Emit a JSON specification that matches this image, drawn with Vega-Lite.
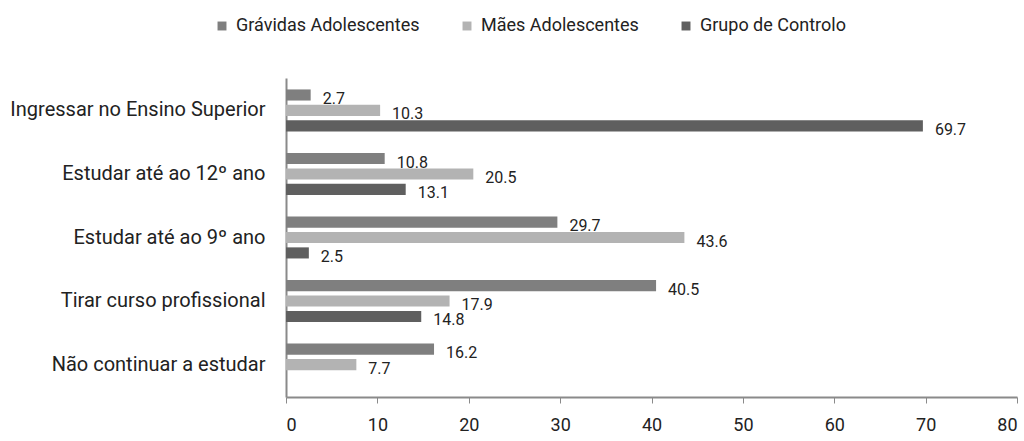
{
  "$schema": "https://vega.github.io/schema/vega-lite/v6.json",
  "width": 731,
  "height": 319,
  "autosize": {"type": "none"},
  "padding": {"left": 286, "top": 78, "right": 7, "bottom": 44},
  "background": "white",
  "config": {
    "view": {"stroke": null},
    "font": "Roboto",
    "axis": {"labelFont": "Roboto", "labelColor": "#222", "domainColor": "#8a8a8a", "domainWidth": 2, "tickColor": "#8a8a8a", "grid": false, "title": null, "labelLimit": 0}
  },
  "data": {
    "values": [
      {"cat": "Ingressar no Ensino Superior", "serie": "Grávidas Adolescentes", "v": 2.7},
      {"cat": "Ingressar no Ensino Superior", "serie": "Mães Adolescentes", "v": 10.3},
      {"cat": "Ingressar no Ensino Superior", "serie": "Grupo de Controlo", "v": 69.7},
      {"cat": "Estudar até ao 12º ano", "serie": "Grávidas Adolescentes", "v": 10.8},
      {"cat": "Estudar até ao 12º ano", "serie": "Mães Adolescentes", "v": 20.5},
      {"cat": "Estudar até ao 12º ano", "serie": "Grupo de Controlo", "v": 13.1},
      {"cat": "Estudar até ao 9º ano", "serie": "Grávidas Adolescentes", "v": 29.7},
      {"cat": "Estudar até ao 9º ano", "serie": "Mães Adolescentes", "v": 43.6},
      {"cat": "Estudar até ao 9º ano", "serie": "Grupo de Controlo", "v": 2.5},
      {"cat": "Tirar curso profissional", "serie": "Grávidas Adolescentes", "v": 40.5},
      {"cat": "Tirar curso profissional", "serie": "Mães Adolescentes", "v": 17.9},
      {"cat": "Tirar curso profissional", "serie": "Grupo de Controlo", "v": 14.8},
      {"cat": "Não continuar a estudar", "serie": "Grávidas Adolescentes", "v": 16.2},
      {"cat": "Não continuar a estudar", "serie": "Mães Adolescentes", "v": 7.7}
    ]
  },
  "encoding": {
    "y": {
      "field": "cat", "type": "nominal", "sort": null,
      "scale": {"paddingInner": 0.34, "paddingOuter": 0.18},
      "axis": {"ticks": false, "labelFontSize": 20, "labelPadding": 21, "labelColor": "#222"}
    },
    "yOffset": {
      "field": "serie", "type": "nominal",
      "sort": ["Grávidas Adolescentes", "Mães Adolescentes", "Grupo de Controlo"],
      "scale": {"paddingInner": 0.28, "paddingOuter": 0}
    },
    "x": {
      "field": "v", "type": "quantitative",
      "scale": {"domain": [0, 80], "nice": false},
      "axis": {"values": [0, 10, 20, 30, 40, 50, 60, 70, 80], "tickSize": 6, "labelFontSize": 18, "labelPadding": 13}
    }
  },
  "layer": [
    {
      "mark": {"type": "bar"},
      "encoding": {
        "color": {
          "field": "serie", "type": "nominal",
          "sort": ["Grávidas Adolescentes", "Mães Adolescentes", "Grupo de Controlo"],
          "scale": {"domain": ["Grávidas Adolescentes", "Mães Adolescentes", "Grupo de Controlo"], "range": ["#7f7f7f", "#b3b3b3", "#5f5f5f"]},
          "legend": {
            "orient": "none", "legendX": -73, "legendY": -61, "direction": "horizontal", "title": null,
            "symbolType": "square", "symbolSize": 80, "symbolStrokeWidth": 0, "labelFontSize": 18, "labelColor": "#222",
            "columnPadding": 38, "labelOffset": 5, "labelLimit": 0
          }
        }
      }
    },
    {
      "mark": {"type": "text", "align": "left", "baseline": "middle", "dx": 12, "dy": 4, "fontSize": 16, "color": "#222"},
      "encoding": {"text": {"field": "v", "type": "quantitative", "format": ".1f"}}
    }
  ]
}
